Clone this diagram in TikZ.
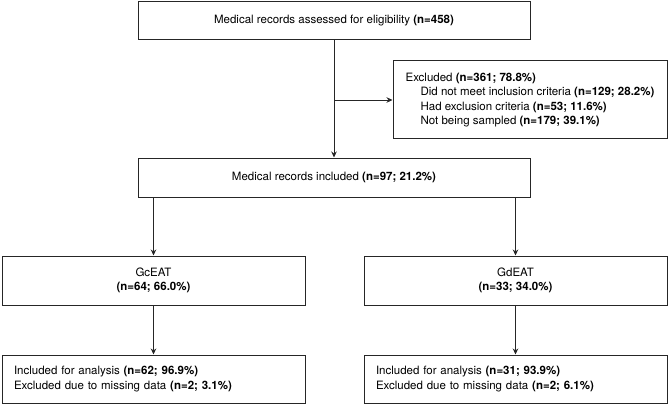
\documentclass[tikz,border=0pt]{standalone}
\usepackage{fontspec}
\setmainfont{TeX Gyre Heros}
\usetikzlibrary{arrows.meta}

\begin{document}
\begin{tikzpicture}[x=1pt,y=1pt,
    box/.style={draw=black!85,line width=1pt,inner sep=0pt,
                font=\fontsize{11.5}{14.5}\selectfont},
    line/.style={draw=black!85,line width=0.8pt,-{Stealth[length=6pt,width=5.5pt]}}]
                          \useasboundingbox (0,0) rectangle (669,405);

                          % boxes
                          \node[box,minimum width=392pt,minimum height=38pt] (assessed) at (334,384)
                            {Medical records assessed for eligibility \textbf{(n=458)}};
                          \node[box,minimum width=274pt,minimum height=78pt,align=left] (excluded) at (530,305)
                            {Excluded \textbf{(n=361; 78.8\%)}\\
                             \hspace*{15pt}Did not meet inclusion criteria \textbf{(n=129; 28.2\%)}\\
                             \hspace*{15pt}Had exclusion criteria \textbf{(n=53; 11.6\%)}\\
                             \hspace*{15pt}Not being sampled \textbf{(n=179; 39.1\%)}};
                          \node[box,minimum width=392pt,minimum height=39pt] (included) at (334,227.5)
                            {Medical records included \textbf{(n=97; 21.2\%)}};

                          \node[box,minimum width=303pt,minimum height=49pt,align=center] (gceat) at (153.5,124.5)
                            {GcEAT\\\textbf{(n=64; 66.0\%)}};
                          \node[box,minimum width=303pt,minimum height=49pt,align=center] (gdeat) at (515.5,124.5)
                            {GdEAT\\\textbf{(n=33; 34.0\%)}};

                          \node[box,minimum width=303pt,minimum height=48pt,align=left,
                                text width=279pt] (analysisc) at (153.5,26)
                            {Included for analysis \textbf{(n=62; 96.9\%)}\\
                             Excluded due to missing data \textbf{(n=2; 3.1\%)}};
                          \node[box,minimum width=303pt,minimum height=48pt,align=left,
                                text width=279pt] (analysisd) at (515.5,26)
                            {Included for analysis \textbf{(n=31; 93.9\%)}\\
                             Excluded due to missing data \textbf{(n=2; 6.1\%)}};

                          % arrows
                          \draw[line] (assessed) -- (included);
                          \draw[line] (assessed.south |- excluded.west) -- (excluded.west);
                          \draw[line] (included.south -| gceat.north) -- (gceat.north);
                          \draw[line] (included.south -| gdeat.north) -- (gdeat.north);
                          \draw[line] (gceat) -- (analysisc);
                          \draw[line] (gdeat) -- (analysisd);
                          \end{tikzpicture}
\end{document}
